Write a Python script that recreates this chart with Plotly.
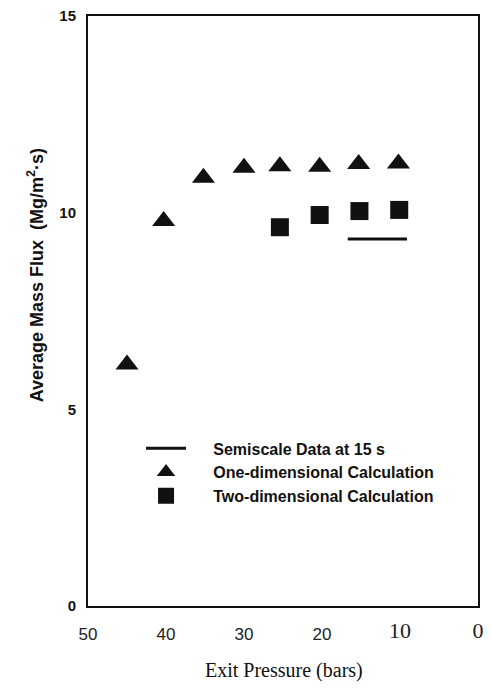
import plotly.graph_objects as go

# Exit pressure (bars) and average mass flux (Mg/m^2*s)
one_d_pressure = [45.0, 40.3, 35.2, 30.0, 25.4, 20.3, 15.3, 10.2]
one_d_flux = [6.14, 9.79, 10.89, 11.14, 11.18, 11.17, 11.24, 11.25]

two_d_pressure = [25.4, 20.3, 15.2, 10.1]
two_d_flux = [9.63, 9.94, 10.04, 10.07]

semiscale_pressure = [16.7, 9.1]
semiscale_flux = [9.33, 9.33]

x_tickvals_sans = [50, 40, 30, 20]
x_ticklabels_sans = ["50", "40", "30", "20"]
x_tickvals_serif = [10, 0]
x_ticklabels_serif = ["10", "0"]
y_tickvals = [0, 5, 10, 15]

NB = "\u00a0"
fig = go.Figure()
fig.add_trace(go.Scatter(
    x=semiscale_pressure, y=semiscale_flux, mode="lines",
    line=dict(color="#111111", width=3),
    name=NB * 5 + "Semiscale Data at 15 s", legendgroup="a"))
fig.add_trace(go.Scatter(
    x=one_d_pressure, y=one_d_flux, mode="markers",
    marker=dict(symbol="triangle-up", size=20, color="#111111"),
    name=NB * 5 + "One-dimensional Calculation", legendgroup="b"))
fig.add_trace(go.Scatter(
    x=two_d_pressure, y=two_d_flux, mode="markers",
    marker=dict(symbol="square", size=18, color="#111111"),
    name=NB * 5 + "Two-dimensional Calculation", legendgroup="c"))

fig.update_layout(
    width=491, height=688,
    margin=dict(l=88, r=7, t=13, b=82),
    paper_bgcolor="white", plot_bgcolor="white",
    showlegend=True,
    legend=dict(x=0.136, y=0.296, xanchor="left", yanchor="top",
                font=dict(family="Liberation Sans, Arial, sans-serif", size=16, color="#111111", weight="bold"),
                bgcolor="rgba(0,0,0,0)", borderwidth=0, itemwidth=40,
                traceorder="grouped", tracegroupgap=0),
    xaxis=dict(range=[50, 0], tickvals=x_tickvals_sans, ticktext=x_ticklabels_sans,
               showgrid=False, zeroline=False, showline=True, mirror=True,
               linecolor="#111111", linewidth=2, ticks="",
               ticklabelstandoff=12,
               tickfont=dict(family="Liberation Sans, Arial, sans-serif", size=17, color="#222222")),
    xaxis2=dict(range=[50, 0], overlaying="x", side="bottom",
                tickvals=x_tickvals_serif, ticktext=x_ticklabels_serif,
                showgrid=False, zeroline=False, showline=False, ticks="",
                ticklabelstandoff=9, ticklabeloverflow="allow",
                tickfont=dict(family="Liberation Serif, Times New Roman, serif", size=22, color="#222222")),
    yaxis=dict(range=[0, 15], tickvals=y_tickvals,
               showgrid=False, zeroline=False, showline=True, mirror=True,
               linecolor="#111111", linewidth=2, ticks="",
               ticklabelstandoff=7,
               tickfont=dict(family="Liberation Sans, Arial, sans-serif", size=15, color="#111111", weight="bold")),
    annotations=[
        dict(text="Average Mass Flux" + NB * 2 + "(Mg/m<sup>2</sup>\u00b7s)",
             xref="paper", yref="paper", x=-0.134, y=0.56, textangle=-90,
             xanchor="center", yanchor="middle", showarrow=False,
             font=dict(family="Liberation Sans, Arial, sans-serif", size=18, color="#111111", weight="bold")),
        dict(text="Exit Pressure (bars)", xref="paper", yref="paper",
             x=0.503, y=-0.1096, xanchor="center", yanchor="middle", showarrow=False,
             font=dict(family="Liberation Serif, Times New Roman, serif", size=20, color="#111111")),
    ],
)
# invisible helper trace so the overlaying axis with the serif tick labels is drawn
fig.add_trace(go.Scatter(x=x_tickvals_serif, y=[None, None], xaxis="x2", mode="markers",
                         showlegend=False, hoverinfo="skip"))

fig.write_html("out.html")
